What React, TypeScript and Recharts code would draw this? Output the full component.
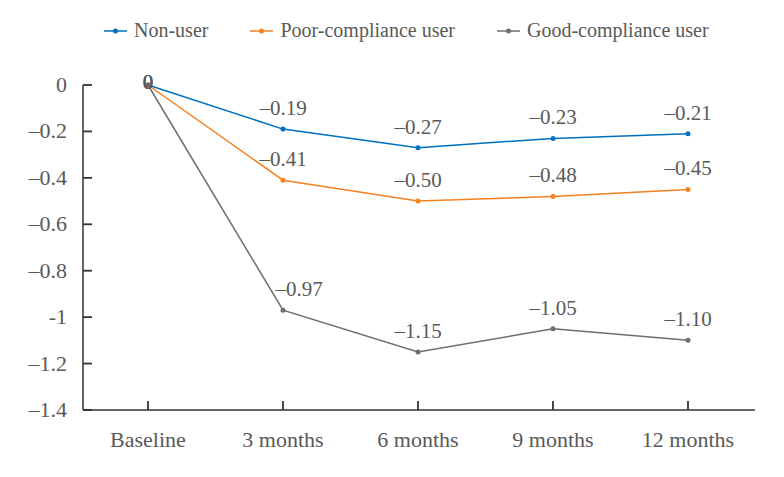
import React from "react";
import { LineChart, Line, XAxis, YAxis, LabelList } from "recharts";

const timepoints = ["Baseline", "3 months", "6 months", "9 months", "12 months"];
const nonUser = [0, -0.19, -0.27, -0.23, -0.21];
const poorCompliance = [0, -0.41, -0.5, -0.48, -0.45];
const goodCompliance = [0, -0.97, -1.15, -1.05, -1.1];
const yTicks = [0, -0.2, -0.4, -0.6, -0.8, -1, -1.2, -1.4];

const seriesList = [
  { key: "nonUser", name: "Non-user", color: "#0070C0" },
  { key: "poor", name: "Poor-compliance user", color: "#F58220" },
  { key: "good", name: "Good-compliance user", color: "#6E6E6E" },
];

const data = timepoints.map((t, i) => ({
  time: t,
  nonUser: nonUser[i],
  poor: poorCompliance[i],
  good: goodCompliance[i],
}));

const FONT = "'Liberation Serif', 'Times New Roman', serif";
const TEXT = "#595959";
const AXIS = "#333333";

const fmtLabel = (v: number) => (v === 0 ? "0" : "\u2013" + Math.abs(v).toFixed(2));
const fmtTick = (v: number) => {
  if (v === 0) return "0";
  if (v === -1) return "-1";
  return "\u2013" + String(Math.abs(v));
};

// inward tick marks are drawn by hand next to each label
const YTick = (props: any) => {
  const { x, y, payload } = props;
  return (
    <g>
      <path d={`M${x + 16},${y}h9`} stroke={AXIS} strokeWidth={1.8} fill="none" />
      <text x={x} y={y} dy={7} textAnchor="end" fill={TEXT} fontSize={22} fontFamily={FONT}>
        {fmtTick(payload.value)}
      </text>
    </g>
  );
};

const XTick = (props: any) => {
  const { x, y, payload } = props;
  return (
    <g>
      <path d={`M${x},${y - 16}v-9`} stroke={AXIS} strokeWidth={1.8} fill="none" />
      <text x={x} y={y} dy={21} textAnchor="middle" fill={TEXT} fontSize={22} fontFamily={FONT}>
        {payload.value}
      </text>
    </g>
  );
};

// labels sit above the points; the baseline "0" sits on the point,
// and the steep drop label of the good-compliance line is nudged right
const makeLabel = (seriesKey: string) => (props: any) => {
  const { x, y, value, index } = props;
  const dy = index === 0 ? 4 : -14;
  const dx = seriesKey === "good" && index === 1 ? 16 : 0;
  return (
    <text x={x + dx} y={y + dy} textAnchor="middle" fill={TEXT} fontSize={21} fontFamily={FONT}>
      {fmtLabel(value)}
    </text>
  );
};

const LegendRow = () => (
  <div
    style={{
      position: "absolute",
      left: 104,
      top: 19,
      display: "flex",
      fontFamily: FONT,
      fontSize: 20,
      color: TEXT,
    }}
  >
    {seriesList.map((s) => (
      <div key={s.key} style={{ display: "flex", alignItems: "center", marginRight: 42 }}>
        <svg width={23} height={10} style={{ marginRight: 7 }}>
          <line x1={0} x2={23} y1={5} y2={5} stroke={s.color} strokeWidth={1.5} />
          <circle cx={11.5} cy={5} r={2.5} fill={s.color} />
        </svg>
        <span>{s.name}</span>
      </div>
    ))}
  </div>
);

export default function App() {
  return (
    <div style={{ position: "absolute", left: 0, top: 0, width: 784, height: 477, background: "#fff" }}>
      <LineChart
        width={784}
        height={477}
        data={data}
        margin={{ top: 85, right: 29, left: 0, bottom: 0 }}
      >
        <XAxis
          dataKey="time"
          height={67}
          padding={{ left: 65, right: 67 }}
          axisLine={{ stroke: AXIS, strokeWidth: 1.5 }}
          tickLine={false}
          tickSize={0}
          tickMargin={16}
          tick={<XTick />}
          interval={0}
        />
        <YAxis
          width={83}
          domain={[-1.4, 0]}
          ticks={yTicks}
          axisLine={{ stroke: AXIS, strokeWidth: 1.5 }}
          tickLine={false}
          tickSize={0}
          tickMargin={16}
          tick={<YTick />}
          interval={0}
        />
        {seriesList.map((s) => (
          <Line
            key={s.key}
            dataKey={s.key}
            name={s.name}
            type="linear"
            stroke={s.color}
            strokeWidth={1.5}
            dot={{ r: 2.5, fill: s.color, stroke: s.color, strokeWidth: 0 }}
            activeDot={false}
            isAnimationActive={false}
          >
            <LabelList dataKey={s.key} content={makeLabel(s.key)} />
          </Line>
        ))}
      </LineChart>
      <LegendRow />
    </div>
  );
}
